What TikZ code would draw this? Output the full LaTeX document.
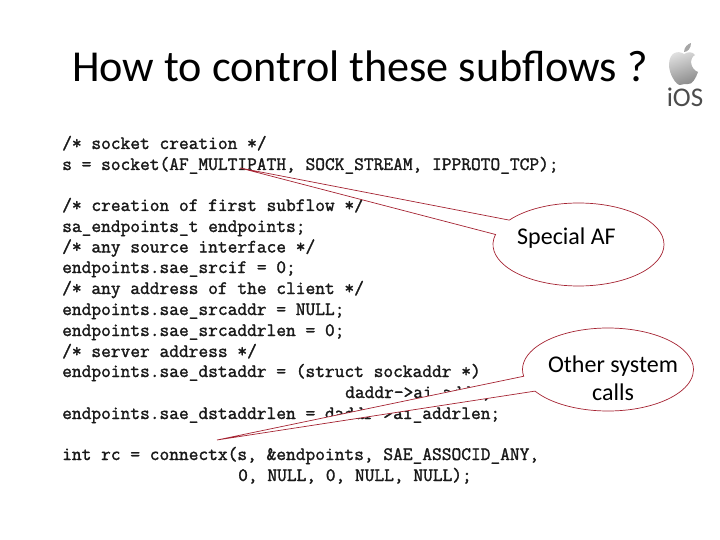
\documentclass[tikz,border=0pt]{standalone}
\usepackage{fontspec}
\setmainfont{Carlito}
\newfontfamily\codefont{Latin Modern Mono}[FakeBold=1.6]
\usetikzlibrary{shapes.callouts}
\definecolor{calloutred}{RGB}{165,35,50}
\tikzset{
    codeline/.style={anchor=base west, inner sep=0pt, text=black!90, font=\fontsize{18.9}{21}\codefont},
    bubble/.style={ellipse callout, draw=calloutred, fill=white, line width=0.7pt, inner sep=0pt, minimum width=171pt, minimum height=83pt},
    bubbletext/.style={inner sep=0pt, align=center, text=black, font=\fontsize{24}{28}\selectfont},
}
\begin{document}
\begin{tikzpicture}[x=1pt,y=-1pt]
    \useasboundingbox (0,0) rectangle (720,540);

    \node[anchor=base west, inner sep=0pt, font=\fontsize{44.2}{50}\selectfont] (title) at (72,82) {How to control these subflows ?};

    \node[codeline] (line1) at (62,149) {/* socket creation */};
    \node[codeline] (line2) at (62,170) {s = socket(AF\_MULTIPATH, SOCK\_STREAM, IPPROTO\_TCP);};
    \node[codeline] (line3) at (62,211) {/* creation of first subflow */};
    \node[codeline] (line4) at (62,232) {sa\_endpoints\_t endpoints;};
    \node[codeline] (line5) at (62,252.5) {/* any source interface */};
    \node[codeline] (line6) at (62,273) {endpoints.sae\_srcif = 0;};
    \node[codeline] (line7) at (62,294) {/* any address of the client */};
    \node[codeline] (line8) at (62,315) {endpoints.sae\_srcaddr = NULL;};
    \node[codeline] (line9) at (62,336) {endpoints.sae\_srcaddrlen = 0;};
    \node[codeline] (line10) at (62,357) {/* server address */};
    \node[codeline] (line11) at (62,377) {endpoints.sae\_dstaddr = (struct sockaddr *)};
    \node[codeline] (line12) at (345,398) {daddr->ai\_addr,};
    \node[codeline] (line13) at (62,419) {endpoints.sae\_dstaddrlen = daddr->ai\_addrlen;};
    \node[codeline] (line14) at (62,460) {int rc = connectx(s, \&endpoints, SAE\_ASSOCID\_ANY,};
    \node[codeline] (line15) at (238,481) {0, NULL, 0, NULL, NULL);};

    \node[bubble, callout absolute pointer={(240,168)}, callout pointer arc=22] (afbubble) at (578.5,244.5) {};
    \node[bubble, callout absolute pointer={(217,440)}, callout pointer arc=22] (callsbubble) at (608,369.5) {};
    \node[bubbletext] (aftext) at (566.5,238.5) {Special AF};
    \node[bubbletext] (callstext) at (613,378) {Other system\\calls};

    \shade[left color=black!12, right color=black!45, shading angle=20] (684,54) .. controls (678,50) and (669,52) .. (669,65) .. controls (669,74) and (676,85) .. (680,85) .. controls (683,85) and (685,83) .. (688,84) .. controls (692,85) and (696,78) .. (698,72) .. controls (690,69) and (689,58) .. (695,55) .. controls (692,51) and (688,52) .. (684,54) -- cycle;
    \fill[black!35] (684,52) .. controls (684,47) and (688,44) .. (691,43) .. controls (691,48) and (688,52) .. (684,52) -- cycle;
    \node[inner sep=0pt, anchor=base, text=black!70, font=\fontsize{27}{27}\selectfont] (iostext) at (685,107) {iOS};
\end{tikzpicture}
\end{document}
